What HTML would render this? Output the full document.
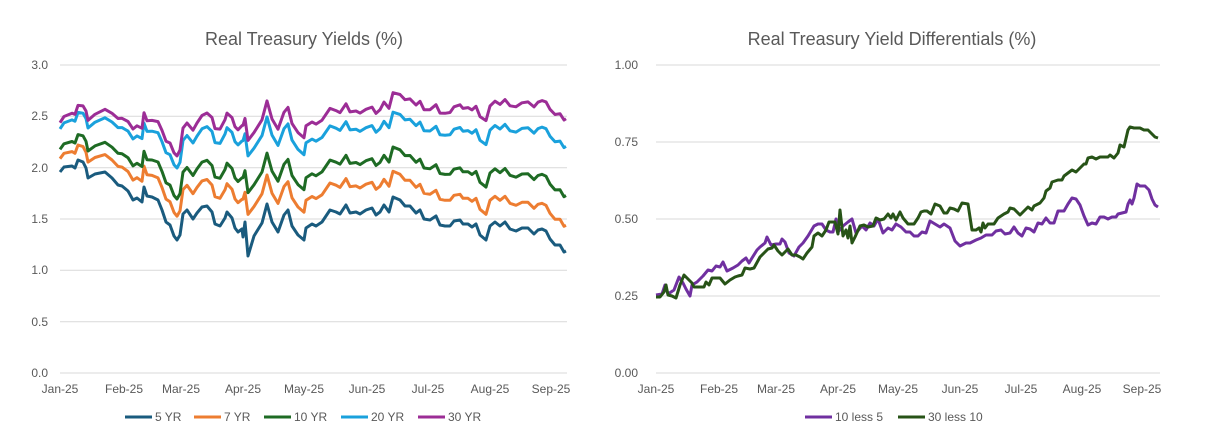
<!DOCTYPE html>
<html><head><meta charset="utf-8"><style>
html,body{margin:0;padding:0;background:#fff;}
svg{display:block;font-family:"Liberation Sans",sans-serif;}
</style></head><body>
<svg id="s" width="1223" height="447" viewBox="0 0 1223 447" xmlns="http://www.w3.org/2000/svg">
<rect width="1223" height="447" fill="#fff"/>
<text x="304" y="45" text-anchor="middle" font-size="18" fill="#595959">Real Treasury Yields (%)</text>
<text x="892" y="45" text-anchor="middle" font-size="18" fill="#595959">Real Treasury Yield Differentials (%)</text>
<g stroke="#d9d9d9" stroke-width="1">
<line x1="60" x2="567" y1="65" y2="65"/><line x1="60" x2="567" y1="116.3" y2="116.3"/><line x1="60" x2="567" y1="167.7" y2="167.7"/><line x1="60" x2="567" y1="219" y2="219"/><line x1="60" x2="567" y1="270.3" y2="270.3"/><line x1="60" x2="567" y1="321.7" y2="321.7"/><line x1="60" x2="567" y1="373" y2="373"/>
<line x1="656" x2="1160" y1="65" y2="65"/><line x1="656" x2="1160" y1="142" y2="142"/><line x1="656" x2="1160" y1="219" y2="219"/><line x1="656" x2="1160" y1="296" y2="296"/><line x1="656" x2="1160" y1="373" y2="373"/>
</g>
<g font-size="12" fill="#595959" text-anchor="end">
<text x="48" y="69">3.0</text><text x="48" y="120">2.5</text><text x="48" y="172">2.0</text><text x="48" y="223">1.5</text><text x="48" y="274">1.0</text><text x="48" y="326">0.5</text><text x="48" y="377">0.0</text>
<text x="638" y="69">1.00</text><text x="638" y="146">0.75</text><text x="638" y="223">0.50</text><text x="638" y="300">0.25</text><text x="638" y="377">0.00</text>
</g>
<g font-size="12" fill="#595959" text-anchor="middle">
<text x="60" y="393">Jan-25</text><text x="124" y="393">Feb-25</text><text x="181" y="393">Mar-25</text><text x="243" y="393">Apr-25</text><text x="304" y="393">May-25</text><text x="367" y="393">Jun-25</text><text x="428" y="393">Jul-25</text><text x="490" y="393">Aug-25</text><text x="551" y="393">Sep-25</text>
<text x="656" y="393">Jan-25</text><text x="719" y="393">Feb-25</text><text x="776" y="393">Mar-25</text><text x="838" y="393">Apr-25</text><text x="898" y="393">May-25</text><text x="960" y="393">Jun-25</text><text x="1021" y="393">Jul-25</text><text x="1082" y="393">Aug-25</text><text x="1142" y="393">Sep-25</text>
</g>
<g font-size="12" fill="#595959">
<line x1="125" x2="152" y1="417" y2="417" stroke="#1a5b7e" stroke-width="3"/><text x="155" y="421">5 YR</text>
<line x1="194" x2="221" y1="417" y2="417" stroke="#ed7d31" stroke-width="3"/><text x="224" y="421">7 YR</text>
<line x1="264" x2="291" y1="417" y2="417" stroke="#1e6b24" stroke-width="3"/><text x="294" y="421">10 YR</text>
<line x1="341" x2="368" y1="417" y2="417" stroke="#1aa1dc" stroke-width="3"/><text x="371" y="421">20 YR</text>
<line x1="418" x2="445" y1="417" y2="417" stroke="#9c2d96" stroke-width="3"/><text x="448" y="421">30 YR</text>
<line x1="805" x2="832" y1="417" y2="417" stroke="#7030a0" stroke-width="3"/><text x="835" y="421">10 less 5</text>
<line x1="898" x2="925" y1="417" y2="417" stroke="#275317" stroke-width="3"/><text x="928" y="421">30 less 10</text>
</g>
<g id="lines" fill="none" stroke-width="3" stroke-linejoin="round"></g>
</svg>
<script>
var b=[[60,172],[64,167],[72,166],[75,168],[78,160],[83,162],[86,168],[88,178],[95,174],[105,172],[112,178],[118,185],[122,186],[128,191],[133,200],[137,198],[142,202],[144,187],[147,196],[152,197],[158,200],[162,210],[166,222],[170,225],[174,236],[177,240],[180,235],[183,214],[187,210],[193,219],[197,213],[202,207],[207,206],[212,212],[215,224],[220,226],[225,218],[227,212],[232,218],[235,228],[238,232],[242,229],[243,237],[245,222],[248,256],[254,236],[262,223],[267,204],[272,222],[278,232],[284,215],[288,210],[292,226],[298,235],[304,240],[306,228],[312,224],[316,226],[322,222],[330,210],[336,212],[340,214],[346,205],[350,213],[356,212],[360,214],[366,210],[372,208],[376,215],[380,212],[384,205],[389,212],[393,197],[400,200],[405,206],[410,206],[416,213],[420,210],[424,219],[430,220],[436,216],[440,225],[445,226],[450,226],[454,221],[460,220],[463,224],[468,224],[472,227],[476,224],[480,235],[486,240],[490,226],[495,222],[500,226],[505,222],[510,229],[516,231],[522,228],[528,228],[534,234],[538,230],[542,229],[546,231],[550,239],[555,245],[560,245],[564,252],[566,251]];
var offs={"#ed7d31":[[60,.13],[243,.29],[370,.25],[567,.25]],"#1e6b24":[[60,.22],[243,.5],[370,.48],[567,.54]],"#1aa1dc":[[60,.42],[243,.86],[370,.8],[567,1.02]],"#9c2d96":[[60,.48],[243,1.01],[370,.98],[567,1.29]]};
function interp(a,x){for(var i=0;i<a.length-1;i++){if(x<=a[i+1][0]){var t=(x-a[i][0])/(a[i+1][0]-a[i][0]);return a[i][1]+t*(a[i+1][1]-a[i][1]);}}return a[a.length-1][1];}
var g=document.getElementById('lines'),NS="http://www.w3.org/2000/svg";
function pl(pts,c){var p=document.createElementNS(NS,'polyline');p.setAttribute('points',pts.map(function(q){return q[0]+','+q[1].toFixed(1)}).join(' '));p.setAttribute('stroke',c);g.appendChild(p);}
pl(b,"#1a5b7e");
["#ed7d31","#1e6b24","#1aa1dc","#9c2d96"].forEach(function(c){var o=offs[c];pl(b.map(function(q){var y=q[1];if(q[0]==243)y=229;if(q[0]==248)y=244;return [q[0],y-interp(o,q[0])*102.67];}),c);});
var pu=[[656,295],[662,294],[665,285],[668,294],[674,290],[679,277],[683,283],[686,289],[690,296],[692,285],[697,282],[703,276],[708,270],[712,271],[716,266],[720,267],[723,262],[727,271],[733,268],[738,265],[742,261],[746,258],[749,263],[752,258],[757,250],[760,247],[765,243],[767,237],[771,245],[776,244],[780,244],[782,239],[785,242],[789,253],[794,256],[799,247],[803,243],[808,236],[814,226],[818,224],[822,224],[826,230],[830,232],[833,232],[836,219],[838,232],[843,226],[848,222],[852,219],[856,233],[862,226],[866,230],[870,223],[874,226],[878,219],[883,233],[888,228],[892,230],[896,224],[901,227],[906,232],[910,232],[914,236],[918,236],[922,232],[926,233],[930,221],[935,224],[940,227],[944,224],[950,228],[955,241],[960,246],[966,243],[970,243],[976,240],[981,238],[986,235],[992,235],[996,231],[1001,230],[1005,234],[1010,233],[1014,227],[1018,233],[1022,236],[1026,228],[1030,229],[1034,232],[1038,223],[1042,224],[1046,218],[1050,223],[1054,223],[1058,211],[1064,211],[1068,204],[1072,198],[1076,199],[1080,205],[1084,216],[1088,225],[1092,223],[1096,224],[1100,217],[1104,217],[1108,219],[1112,217],[1116,217],[1118,214],[1122,213],[1126,212],[1128,204],[1130,200],[1132,204],[1134,198],[1137,184],[1140,186],[1145,186],[1149,190],[1152,199],[1155,205],[1158,207]];
var gr=[[656,297],[660,297],[664,292],[666,285],[668,295],[672,296],[676,298],[680,285],[684,275],[688,279],[692,283],[694,287],[700,287],[704,287],[706,282],[709,285],[712,278],[716,278],[720,278],[725,284],[730,280],[735,277],[738,276],[742,275],[745,268],[750,269],[754,268],[760,257],[764,253],[768,249],[772,248],[774,245],[778,251],[782,255],[786,251],[788,249],[792,255],[796,255],[800,257],[803,259],[807,253],[812,247],[814,236],[818,233],[822,236],[826,230],[829,222],[832,222],[835,222],[838,234],[840,210],[843,236],[846,230],[848,238],[850,226],[852,243],[855,237],[860,226],[864,225],[868,227],[873,226],[876,218],[880,220],[884,219],[888,214],[891,218],[893,214],[896,220],[900,212],[903,218],[908,224],[914,224],[918,218],[921,212],[924,211],[927,211],[931,214],[935,204],[940,206],[944,213],[947,213],[950,208],[954,209],[958,211],[962,203],[968,204],[972,230],[976,230],[979,228],[981,232],[983,223],[985,228],[988,224],[994,224],[998,218],[1004,214],[1008,212],[1010,208],[1014,209],[1020,215],[1028,207],[1032,210],[1034,206],[1040,203],[1044,198],[1046,191],[1050,188],[1052,182],[1058,180],[1062,180],[1064,176],[1068,173],[1072,170],[1076,172],[1080,168],[1084,164],[1086,164],[1088,158],[1092,157],[1096,159],[1100,157],[1108,157],[1110,155],[1114,158],[1118,153],[1120,145],[1124,147],[1128,130],[1130,127],[1134,128],[1140,128],[1144,130],[1148,130],[1152,134],[1155,137],[1158,138]];
pl(pu,"#7030a0");pl(gr,"#275317");
</script>
</body></html>
